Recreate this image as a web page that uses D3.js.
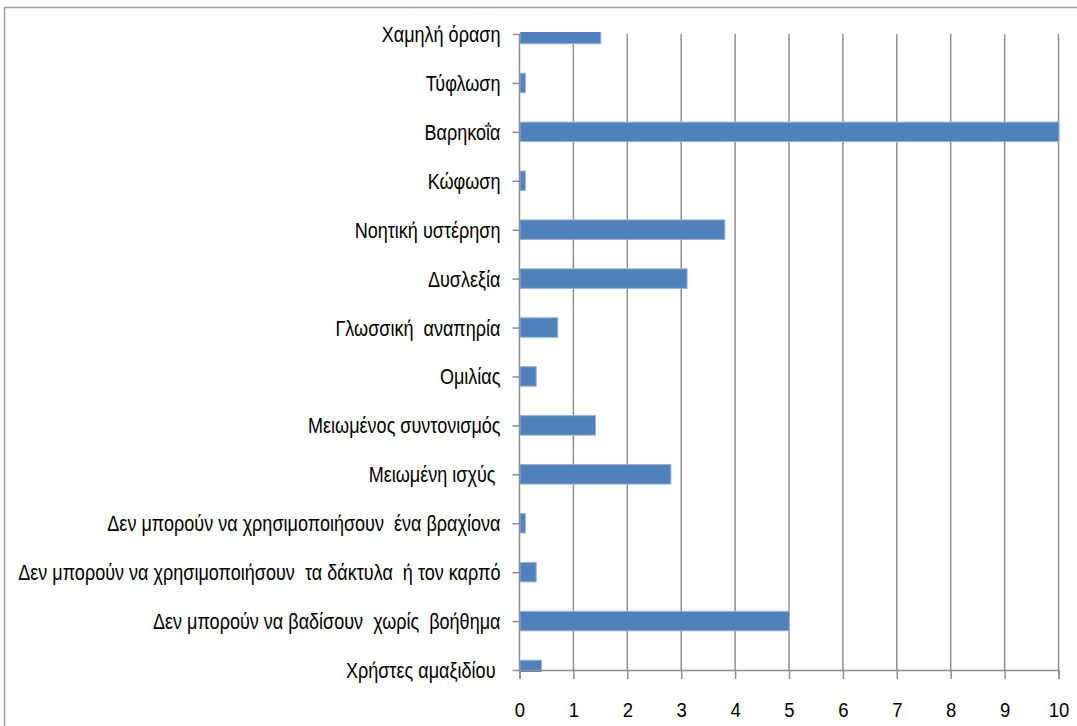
<!DOCTYPE html>
<html>
<head>
<meta charset="utf-8">
<script src="https://cdn.jsdelivr.net/npm/d3@7"></script>
<style>
  body { margin: 0; background: #fff; }
  text { font-family: "Liberation Sans", Arial, sans-serif; white-space: pre; }
</style>
</head>
<body>
<div id="chart"></div>
<script>
// categories, top to bottom
const categories = [
  "Χαμηλή όραση",
  "Τύφλωση",
  "Βαρηκοΐα",
  "Κώφωση",
  "Νοητική υστέρηση",
  "Δυσλεξία",
  "Γλωσσική  αναπηρία",
  "Ομιλίας",
  "Μειωμένος συντονισμός",
  "Μειωμένη ισχύς ",
  "Δεν μπορούν να χρησιμοποιήσουν  ένα βραχίονα",
  "Δεν μπορούν να χρησιμοποιήσουν  τα δάκτυλα  ή τον καρπό",
  "Δεν μπορούν να βαδίσουν  χωρίς  βοήθημα",
  "Χρήστες αμαξιδίου "
];
const values = [1.5, 0.1, 10, 0.1, 3.8, 3.1, 0.7, 0.3, 1.4, 2.8, 0.1, 0.3, 5, 0.4];
const xTicks = [0, 1, 2, 3, 4, 5, 6, 7, 8, 9, 10];

const width = 1077;
const height = 726;
const margin = {top: 34, right: 18.5, bottom: 56, left: 519.5};

const svg = d3.select("#chart")
  .append("svg")
  .attr("width", width)
  .attr("height", height);

// outer frame, runs off the right and bottom edge
svg.append("rect")
  .attr("x", 4.5)
  .attr("y", 7.5)
  .attr("width", width)
  .attr("height", height)
  .attr("fill", "none")
  .attr("stroke", "#9e9e9e")
  .attr("stroke-width", 1.5);

const x = d3.scaleLinear()
  .domain([0, 10])
  .range([margin.left, width - margin.right]);

const y = d3.scalePoint()
  .domain(categories)
  .range([margin.top, height - margin.bottom]);

const barH = 19.5;
const gridColor = "#8e8e8e";

// vertical gridlines
svg.append("g")
  .selectAll("line")
  .data(xTicks.slice(1))
  .join("line")
  .attr("x1", d => x(d))
  .attr("x2", d => x(d))
  .attr("y1", margin.top)
  .attr("y2", height - margin.bottom)
  .attr("stroke", gridColor)
  .attr("stroke-width", 1.5);

svg.append("clipPath")
  .attr("id", "plot-clip")
  .append("rect")
  .attr("x", margin.left)
  .attr("y", margin.top - 2)
  .attr("width", width)
  .attr("height", height - margin.bottom - margin.top + 4);

svg.append("g")
  .attr("clip-path", "url(#plot-clip)")
  .selectAll("rect")
  .data(categories)
  .join("rect")
  .attr("x", x(0) + 0.5)
  .attr("y", d => y(d) - barH / 2)
  .attr("width", (d, i) => x(values[i]) - x(0))
  .attr("height", barH)
  .attr("fill", "#4f81bd")
  .attr("stroke", "#94b3dc")
  .attr("stroke-width", 1);

// x axis
const xAxis = svg.append("g")
  .attr("transform", `translate(0,${height - margin.bottom})`)
  .call(d3.axisBottom(x).tickValues(xTicks).tickSize(9).tickPadding(0).tickFormat(d3.format("d")));
xAxis.select(".domain").attr("stroke", gridColor).attr("stroke-width", 1.5);
xAxis.selectAll(".tick line").attr("stroke", gridColor).attr("stroke-width", 1.5);
xAxis.selectAll(".tick text")
  .attr("y", 0)
  .attr("dy", 0)
  .attr("font-size", 21)
  .attr("fill", "#000")
  .attr("transform", "translate(0,47) scale(0.88,1)")
  .attr("x", 0);

// y axis
const yAxis = svg.append("g")
  .attr("transform", `translate(${margin.left},0)`)
  .call(d3.axisLeft(y).tickSize(7).tickPadding(0));
yAxis.select(".domain").attr("stroke", gridColor).attr("stroke-width", 1.5).attr("d", `M0,${margin.top}V${height - margin.bottom}`);
yAxis.selectAll(".tick line").attr("stroke", gridColor).attr("stroke-width", 1.5);
yAxis.selectAll(".tick text")
  .attr("x", 0)
  .attr("dy", 0)
  .attr("font-size", 22)
  .attr("fill", "#000")
  .attr("text-anchor", "end")
  .attr("transform", "translate(-19,7.5) scale(0.82,1)");
</script>
</body>
</html>
